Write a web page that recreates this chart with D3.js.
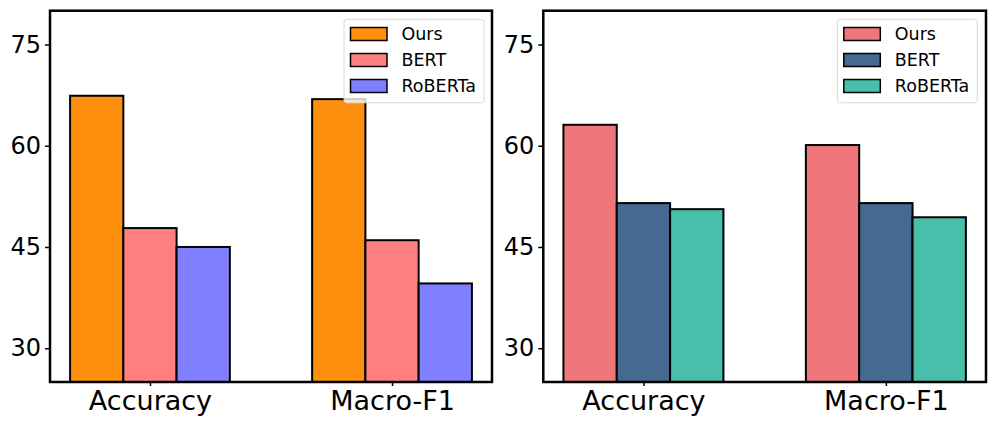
<!DOCTYPE html>
<html>
<head>
<meta charset="utf-8">
<script src="https://cdn.jsdelivr.net/npm/d3@7"></script>
<style>
  html, body { margin: 0; padding: 0; background: #fff; }
  svg { display: block; font-family: "DejaVu Sans", sans-serif; }
</style>
</head>
<body>
<svg id="chart" width="997" height="427"></svg>
<script>
const categories = ["Accuracy", "Macro-F1"];
const seriesNames = ["Ours", "BERT", "RoBERTa"];
const yTicks = [30, 45, 60, 75];

const leftOurs = [67.4, 66.9];
const leftBERT = [47.8, 46.0];
const leftRoBERTa = [45.0, 39.6];
const leftColors = ["#FF8F0E", "#FF7F7F", "#7F7FFF"];

const rightOurs = [63.1, 60.1];
const rightBERT = [51.5, 51.5];
const rightRoBERTa = [50.6, 49.4];
const rightColors = ["#EF767A", "#456990", "#49BEAA"];

const svg = d3.select("#chart");
const barW = 0.22;
const pad = 0.083;

function panel(x0, x1, series, colors, legendX) {
  const top = 10.7, bottom = 382;
  const g = svg.append("g");
  const x = d3.scaleLinear()
    .domain([-1.5 * barW - pad, (categories.length - 1) + 1.5 * barW + pad])
    .range([x0, x1]);
  const y = d3.scaleLinear().domain([25, 80]).range([bottom, top]);

  // bars
  series.forEach((vals, si) => {
    g.selectAll(null).data(vals).enter().append("rect")
      .attr("x", (d, i) => x(i + (si - 1) * barW - barW / 2))
      .attr("width", x(barW) - x(0))
      .attr("y", d => y(d))
      .attr("height", d => y(25) - y(d))
      .attr("fill", colors[si])
      .attr("stroke", "#000")
      .attr("stroke-width", 2);
  });

  // y axis
  const ya = g.append("g").attr("transform", `translate(${x0},0)`)
    .call(d3.axisLeft(y).tickValues(yTicks).tickSize(5).tickPadding(4));
  ya.select(".domain").remove();
  ya.selectAll("line").attr("stroke", "#000").attr("stroke-width", 1.5);
  ya.selectAll("text").attr("font-size", 24).attr("fill", "#000")
    .attr("font-family", "DejaVu Sans");

  // x axis
  const xa = g.append("g").attr("transform", `translate(0,${bottom})`)
    .call(d3.axisBottom(x).tickValues(d3.range(categories.length))
      .tickFormat(i => categories[i]).tickSize(4).tickPadding(5));
  xa.select(".domain").remove();
  xa.selectAll("line").attr("stroke", "#000").attr("stroke-width", 1.5);
  xa.selectAll("text").attr("font-size", 27).attr("fill", "#000")
    .attr("font-family", "DejaVu Sans");

  // frame
  g.append("rect").attr("x", x0).attr("y", top)
    .attr("width", x1 - x0).attr("height", bottom - top)
    .attr("fill", "none").attr("stroke", "#000").attr("stroke-width", 2.5);

  // legend
  const lg = g.append("g").attr("transform", `translate(${legendX},19.3)`);
  lg.append("rect").attr("width", 140).attr("height", 83.5)
    .attr("rx", 3).attr("fill", "#fff").attr("fill-opacity", 0.8)
    .attr("stroke", "#d8d8d8").attr("stroke-width", 1);
  seriesNames.forEach((name, i) => {
    const cy = 14.7 + i * 26;
    lg.append("rect").attr("x", 6.5).attr("y", cy - 6.5)
      .attr("width", 36.5).attr("height", 13)
      .attr("fill", colors[i]).attr("stroke", "#000").attr("stroke-width", 1.5);
    lg.append("text").attr("x", 57.5).attr("y", cy).attr("dy", "0.36em")
      .attr("font-size", 17.5).attr("fill", "#000").text(name);
  });
}

panel(50, 492, [leftOurs, leftBERT, leftRoBERTa], leftColors, 344);
panel(543.3, 986, [rightOurs, rightBERT, rightRoBERTa], rightColors, 837.3);
</script>
</body>
</html>
